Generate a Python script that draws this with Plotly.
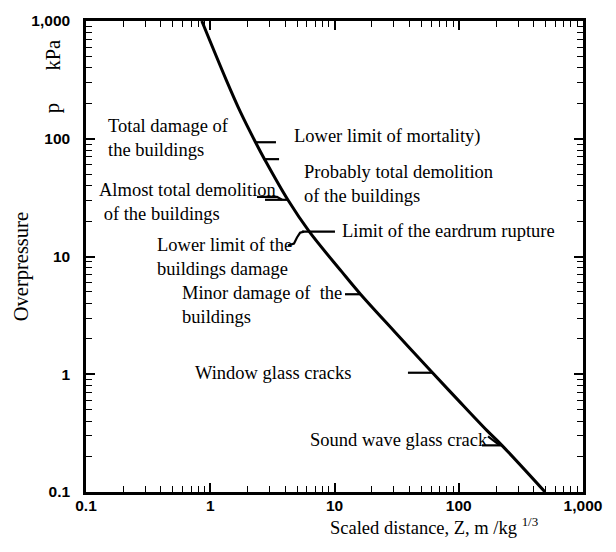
import numpy as np
import plotly.graph_objects as go

# ---- data ----
z_curve = [0.855, 1.341, 1.755, 2.313, 2.733, 4.21, 6.27, 11.38, 16.2, 30.1, 61.5, 99.7, 168.2, 222.5, 495]
p_curve = [1000, 318, 167.3, 93.4, 67.1, 30.3, 16.25, 7.47, 4.78, 2.33, 1.03, 0.597, 0.3336, 0.249, 0.1]

x_tickvals = [0.1, 1, 10, 100, 1000]
x_ticktext = ["0.1", "1", "10", "100", "1,000"]
y_tickvals = [0.1, 1, 10, 100, 1000]
y_ticktext = ["0.1", "1", "10", "100", "1,000"]

label_texts = [
    "Total damage of<br>the buildings",
    "Lower limit of mortality)",
    "Probably total demolition<br>of the buildings",
    "Almost total demolition<br>&nbsp;of the buildings",
    "Limit of the eardrum rupture",
    "Lower limit of the<br>buildings damage",
    "Minor damage of&nbsp; the<br>buildings",
    "Window glass cracks",
    "Sound wave glass crack",
]
label_z = [0.145, 4.55, 5.47, 0.1226, 11.07, 0.359, 0.571, 0.726, 6.12]
label_p = [102, 105, 40.9, 29.1, 16.6, 9.81, 3.86, 1.03, 0.275]

# leader lines (each a polyline in data units)
leader_z = [
    [2.313, 3.38],
    [2.733, 3.58],
    [2.76, 4.21],
    [2.378, 3.445, 3.78],
    [5.47, 10.09],
    [4.22, 4.72, 4.99, 5.28, 5.68],
    [12.15, 16.2],
    [39.0, 61.5],
    [153.8, 222.5],
    [172, 214],
]
leader_p = [
    [93.4, 93.4],
    [67.1, 67.1],
    [30.3, 30.3],
    [32.1, 32.1, 30.3],
    [16.25, 16.25],
    [12.4, 12.9, 14.5, 15.9, 16.25],
    [4.78, 4.78],
    [1.03, 1.03],
    [0.249, 0.249],
    [0.297, 0.249],
]

lz, lp = [], []
for zs, ps in zip(leader_z, leader_p):
    lz += zs + [None]
    lp += ps + [None]

serif = "Liberation Serif, Times New Roman, serif"
sans = "Liberation Sans, Arial, sans-serif"

fig = go.Figure()
fig.add_trace(go.Scatter(x=z_curve, y=p_curve, mode="lines",
                         line=dict(color="black", width=3, shape="spline", smoothing=1.0),
                         hoverinfo="skip", showlegend=False))
fig.add_trace(go.Scatter(x=lz, y=lp, mode="lines",
                         line=dict(color="black", width=2.2),
                         hoverinfo="skip", showlegend=False))

annotations = []
for t, z, p in zip(label_texts, label_z, label_p):
    annotations.append(dict(text=t, x=np.log10(z), y=np.log10(p), xref="x", yref="y",
                            xanchor="left", yanchor="middle", align="left", showarrow=False,
                            font=dict(family=serif, size=18.5, color="black")))

annotations += [
    dict(text="Scaled distance, Z, m /kg <sup>1/3</sup>", x=0.487, y=-0.072, xref="paper", yref="paper",
         xanchor="left", yanchor="middle", showarrow=False,
         font=dict(family=serif, size=18.5, color="black")),
    dict(text="Overpressure", x=-0.129, y=0.479, xref="paper", yref="paper", textangle=-90,
         xanchor="center", yanchor="middle", showarrow=False,
         font=dict(family=serif, size=20.5, color="black")),
    dict(text="kPa", x=-0.067, y=0.928, xref="paper", yref="paper", textangle=-90,
         xanchor="center", yanchor="middle", showarrow=False,
         font=dict(family=serif, size=20.5, color="black")),
    dict(text="p", x=-0.067, y=0.814, xref="paper", yref="paper", textangle=-90,
         xanchor="center", yanchor="middle", showarrow=False,
         font=dict(family=serif, size=20.5, color="black")),
]

axis_common = dict(
    type="log", showgrid=False, zeroline=False,
    showline=True, linecolor="black", linewidth=2.5, mirror="allticks",
    ticks="inside", ticklen=9, tickwidth=1.6, tickcolor="black",
    tickmode="array",
    tickfont=dict(family=sans, size=15.5, color="black", weight="bold"),
    minor=dict(ticks="inside", ticklen=6, tickwidth=1.3, tickcolor="black", dtick="D1", showgrid=False),
)

fig.update_layout(
    width=616, height=552,
    margin=dict(l=86, r=33, t=18, b=60),
    paper_bgcolor="white", plot_bgcolor="white",
    xaxis=dict(axis_common, range=[-1, 3], tickvals=x_tickvals, ticktext=x_ticktext,
               ticklabelstandoff=-2),
    yaxis=dict(axis_common, range=[-1, 3], tickvals=y_tickvals, ticktext=y_ticktext,
               ticklabelstandoff=10),
    annotations=annotations,
)

fig.write_html("out.html", config={"displayModeBar": False},
               post_script="document.body.style.margin='0';")
